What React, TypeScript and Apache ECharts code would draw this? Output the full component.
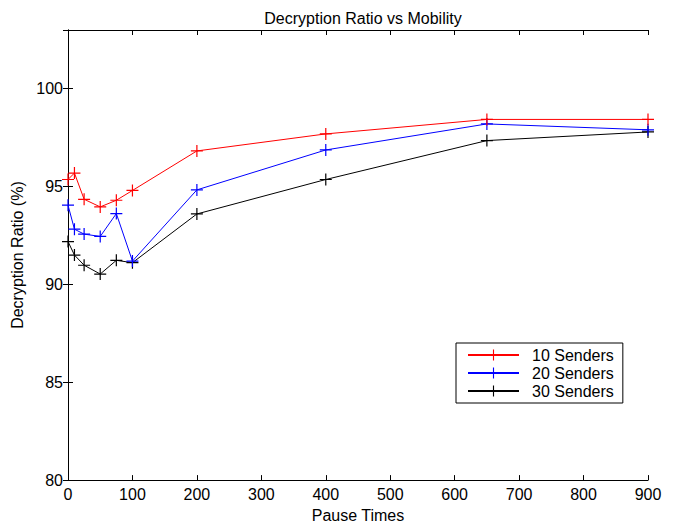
import React, { useEffect, useRef } from "react";
import * as echarts from "echarts";

const pauseTimes = [0, 10, 25, 50, 75, 100, 200, 400, 650, 900];
const senders10 = [95.36, 95.69, 94.35, 93.96, 94.3, 94.8, 96.82, 97.69, 98.43, 98.43];
const senders20 = [94.05, 92.82, 92.57, 92.45, 93.62, 91.19, 94.83, 96.87, 98.2, 97.9];
const senders30 = [92.19, 91.5, 90.98, 90.53, 91.23, 91.11, 93.6, 95.36, 97.35, 97.79];
const seriesNames = ["10 Senders", "20 Senders", "30 Senders"];
const seriesColors = ["#ff0000", "#0000ff", "#000000"];

const FONT = "Liberation Sans, Arial, Helvetica, sans-serif";
const PLUS = "path://M5.4,0H6.6V5.4H12V6.6H6.6V12H5.4V6.6H0V5.4H5.4Z";

export default function App() {
  const ref = useRef<HTMLDivElement>(null);
  useEffect(() => {
    if (!ref.current) return;
    const chart = echarts.init(ref.current, null, { renderer: "svg" });
    const allData = [senders10, senders20, senders30];
    const axisLine = { show: true, lineStyle: { color: "#000", width: 1 } };
    const tick = { show: true, inside: true, length: 5, lineStyle: { color: "#000" } };
    const label = { color: "#000", fontSize: 16, fontFamily: FONT };
    chart.setOption({
      animation: false,
      backgroundColor: "#fff",
      title: {
        text: "Decryption Ratio vs Mobility",
        left: 358,
        textAlign: "center",
        top: 5,
        textStyle: { fontSize: 16, fontWeight: "normal", color: "#000", fontFamily: FONT },
      },
      grid: { left: 68, right: 25, top: 30, bottom: 40.5, containLabel: false },
      legend: {
        orient: "vertical",
        left: 456,
        top: 343,
        itemWidth: 51,
        itemHeight: 14,
        itemGap: 0,
        padding: [3, 9, 3, 11],
        borderColor: "#000",
        borderWidth: 1,
        backgroundColor: "#fff",
        textStyle: { fontSize: 16, color: "#000", fontFamily: FONT, lineHeight: 18, padding: [0, 0, 0, 8] },
        data: seriesNames,
      },
      xAxis: [
        {
          type: "value",
          min: 0,
          max: 900,
          interval: 100,
          position: "bottom",
          axisLine,
          axisTick: tick,
          axisLabel: { ...label, margin: 6 },
          splitLine: { show: false },
          name: "Pause Times",
          nameLocation: "middle",
          nameGap: 20,
          nameTextStyle: { ...label },
        },
        {
          type: "value",
          min: 0,
          max: 900,
          interval: 100,
          position: "top",
          axisLine,
          axisTick: tick,
          axisLabel: { show: false },
          splitLine: { show: false },
        },
      ],
      yAxis: [
        {
          type: "value",
          min: 80,
          max: 103,
          interval: 5,
          position: "left",
          axisLine,
          axisTick: tick,
          axisLabel: { ...label, margin: 5, formatter: (v: number) => (v % 5 === 0 ? String(v) : "") },
          splitLine: { show: false },
          name: "Decryption Ratio (%)",
          nameLocation: "middle",
          nameGap: 30,
          nameTextStyle: { ...label },
        },
        {
          type: "value",
          min: 80,
          max: 103,
          interval: 5,
          position: "right",
          axisLine,
          axisTick: tick,
          axisLabel: { show: false },
          splitLine: { show: false },
        },
      ],
      series: allData.map((d, i) => ({
        name: seriesNames[i],
        type: "line",
        xAxisIndex: 0,
        yAxisIndex: 0,
        data: pauseTimes.map((x, j) => [x, d[j]]),
        symbol: PLUS,
        symbolSize: 12,
        showSymbol: true,
        lineStyle: { color: seriesColors[i], width: 1 },
        itemStyle: { color: seriesColors[i] },
        emphasis: { disabled: true },
        z: 3 - i,
      })),
    });
    return () => chart.dispose();
  }, []);
  return <div ref={ref} style={{ position: "fixed", left: 0, top: 0, width: 673, height: 528 }} />;
}
